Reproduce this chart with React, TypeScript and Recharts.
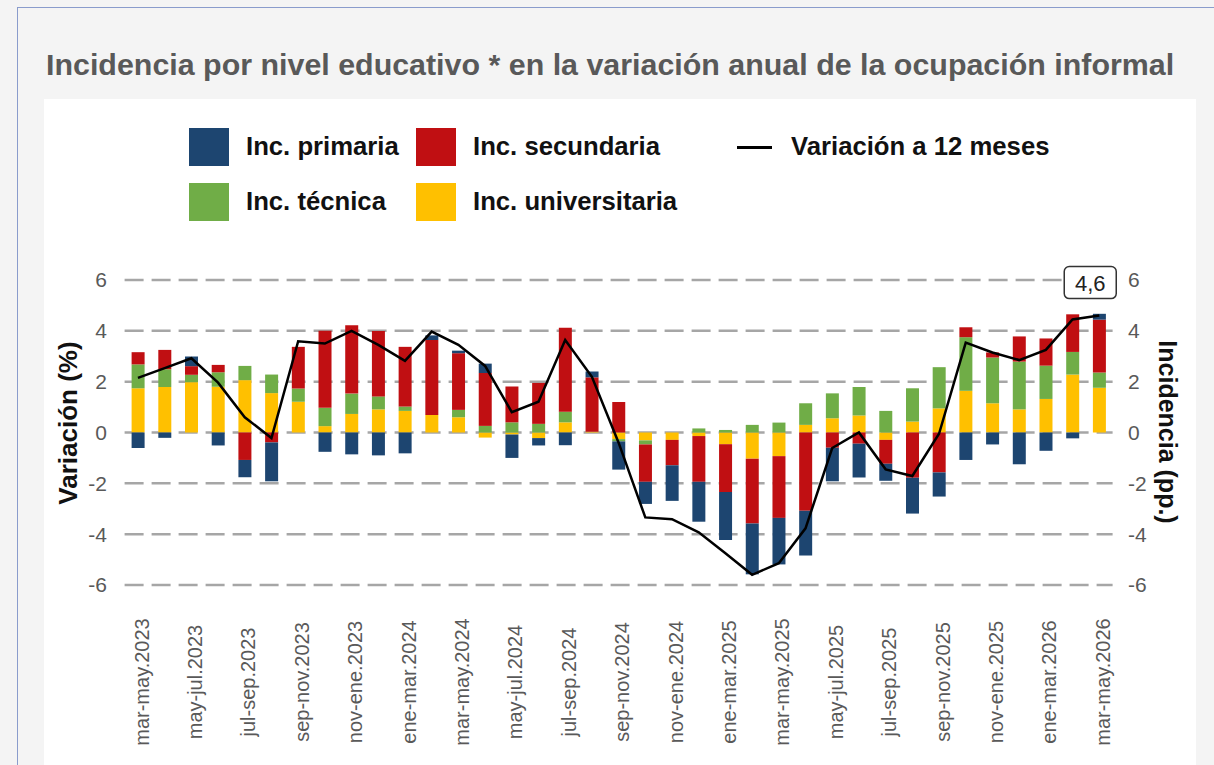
import React from 'react';
import { ComposedChart, Bar, Line, XAxis, YAxis, CartesianGrid } from 'recharts';

const categories = [
  'mar-may.2023', 'abr-jun.2023', 'may-jul.2023', 'jun-ago.2023', 'jul-sep.2023', 'ago-oct.2023',
  'sep-nov.2023', 'oct-dic.2023', 'nov-ene.2023', 'dic-feb.2023', 'ene-mar.2024', 'feb-abr.2024',
  'mar-may.2024', 'abr-jun.2024', 'may-jul.2024', 'jun-ago.2024', 'jul-sep.2024', 'ago-oct.2024',
  'sep-nov.2024', 'oct-dic.2024', 'nov-ene.2024', 'dic-feb.2024', 'ene-mar.2025', 'feb-abr.2025',
  'mar-may.2025', 'abr-jun.2025', 'may-jul.2025', 'jun-ago.2025', 'jul-sep.2025', 'ago-oct.2025',
  'sep-nov.2025', 'oct-dic.2025', 'nov-ene.2025', 'dic-feb.2025', 'ene-mar.2026', 'feb-abr.2026',
  'mar-may.2026',
];

const universitaria = [
  1.74, 1.79, 1.98, 1.80, 2.06, 1.55, 1.21, 0.25, 0.73, 0.91, 0.85, 0.69,
  0.60, -0.20, -0.08, -0.22, 0.40, 0.03, -0.26, -0.31, -0.29, -0.14, -0.46, -1.03,
  -0.93, 0.30, 0.56, 0.67, -0.29, 0.43, 0.95, 1.64, 1.15, 0.91, 1.32, 2.28, 1.76,
];
const tecnica = [
  0.94, 0.70, 0.29, 0.57, 0.56, 0.73, 0.52, 0.72, 0.80, 0.51, 0.17, 0.00,
  0.29, 0.26, 0.40, 0.34, 0.42, 0.00, -0.09, -0.16, 0.00, 0.16, 0.10, 0.30,
  0.39, 0.85, 0.98, 1.12, 0.85, 1.31, 1.62, 2.11, 1.80, 1.88, 1.31, 0.89, 0.60,
];
const secundaria = [
  0.48, 0.76, 0.34, 0.29, -1.08, -0.39, 1.64, 3.03, 2.69, 2.57, 2.35, 2.95,
  2.23, 2.08, 1.41, 1.61, 3.30, 2.14, 1.20, -1.47, -1.00, -1.80, -1.88, -2.55,
  -2.43, -3.08, -0.60, -0.44, -0.94, -1.78, -1.57, 0.39, 0.20, 0.99, 1.07, 1.48, 2.08,
];
const primaria = [
  -0.61, -0.21, 0.38, -0.51, -0.68, -1.53, 0.00, -0.76, -0.86, -0.90, -0.82, 0.18,
  0.10, 0.37, -0.92, -0.29, -0.50, 0.23, -1.11, -0.87, -1.40, -1.57, -1.89, -2.00,
  -1.83, -1.76, -1.32, -1.33, -0.67, -1.41, -0.95, -1.08, -0.47, -1.25, -0.72, -0.23, 0.23,
];
const variacion = [
  2.15, 2.53, 2.92, 1.96, 0.60, -0.22, 3.59, 3.50, 4.00, 3.45, 2.82, 3.97,
  3.45, 2.62, 0.80, 1.21, 3.64, 2.19, -0.40, -3.34, -3.41, -3.93, -4.75, -5.60,
  -5.14, -3.77, -0.61, 0.00, -1.45, -1.71, -0.05, 3.54, 3.15, 2.85, 3.25, 4.45, 4.60,
];
const yTicks = [-6, -4, -2, 0, 2, 4, 6];

const COLORS = {
  primaria: '#1d4570',
  secundaria: '#c00f12',
  tecnica: '#70ad47',
  universitaria: '#ffc000',
};

const data = categories.map((cat, i) => ({
  cat,
  universitaria: universitaria[i],
  tecnica: tecnica[i],
  secundaria: secundaria[i],
  primaria: primaria[i],
  variacion: variacion[i],
}));

const FONT = '"Liberation Sans", Arial, sans-serif';

const XTick = (props: any) => {
  const { x, y, payload } = props;
  const cx = x + 3.5;
  const cy = y + 89;
  return (
    <text
      x={cx}
      y={cy}
      transform={`rotate(-90, ${cx}, ${cy})`}
      textAnchor="middle"
      dy="0.355em"
      fontSize={20}
      fill="#595959"
      fontFamily={FONT}
    >
      {payload.value}
    </text>
  );
};

const lastIndex = variacion.length - 1;
const renderLastLabel = (props: any) => {
  const { x, y, index, value } = props;
  if (index !== lastIndex) return <g key={`l${index}`} />;
  const cx = x - 9;
  const cy = y - 33;
  return (
    <g key="lastlabel">
      <rect x={cx - 26} y={cy - 16} width={52} height={32} rx={5} ry={5} fill="#fff" stroke="#333" strokeWidth={1.5} />
      <text x={cx} y={cy} textAnchor="middle" dy="0.36em" fontSize={22} fill="#222" fontFamily={FONT}>
        {String(value).replace('.', ',')}
      </text>
    </g>
  );
};

const legendItems = [
  { label: 'Inc. primaria', color: COLORS.primaria, left: 189, top: 128 },
  { label: 'Inc. secundaria', color: COLORS.secundaria, left: 416, top: 128 },
  { label: 'Inc. técnica', color: COLORS.tecnica, left: 189, top: 183 },
  { label: 'Inc. universitaria', color: COLORS.universitaria, left: 416, top: 183 },
];

export default function App() {
  return (
    <div style={{ position: 'absolute', left: 0, top: 0, width: 1214, height: 765, background: '#f4f4f4', overflow: 'hidden', fontFamily: FONT }}>
      <div style={{ position: 'absolute', left: 17, top: 7, width: 1300, height: 900, borderTop: '1.5px solid #8a9ccc', borderLeft: '1.5px solid #8a9ccc' }} />
      <div style={{ position: 'absolute', left: 46, top: 49, fontSize: 30.4, lineHeight: '30px', fontWeight: 700, color: '#595959', whiteSpace: 'nowrap' }}>
        Incidencia por nivel educativo * en la variación anual de la ocupación informal
      </div>
      <div style={{ position: 'absolute', left: 44, top: 99, width: 1152, height: 700, background: '#ffffff' }} />
      {legendItems.map((it) => (
        <React.Fragment key={it.label}>
          <div style={{ position: 'absolute', left: it.left, top: it.top, width: 40, height: 38, background: it.color }} />
          <div style={{ position: 'absolute', left: it.left + 57, top: it.top + 6, fontSize: 25.7, lineHeight: '25px', fontWeight: 700, color: '#111', whiteSpace: 'nowrap' }}>
            {it.label}
          </div>
        </React.Fragment>
      ))}
      <div style={{ position: 'absolute', left: 737, top: 146, width: 35, height: 2.5, background: '#000' }} />
      <div style={{ position: 'absolute', left: 791, top: 134, fontSize: 25.7, lineHeight: '25px', fontWeight: 700, color: '#111', whiteSpace: 'nowrap' }}>
        Variación a 12 meses
      </div>
      <div style={{ position: 'absolute', left: 68, top: 423, transform: 'translate(-50%, -50%) rotate(-90deg)', fontSize: 26, lineHeight: '26px', fontWeight: 700, color: '#111', whiteSpace: 'nowrap' }}>
        Variación (%)
      </div>
      <div style={{ position: 'absolute', left: 1167, top: 432, transform: 'translate(-50%, -50%) rotate(90deg)', fontSize: 25, lineHeight: '25px', fontWeight: 700, color: '#111', whiteSpace: 'nowrap' }}>
        Incidencia (pp.)
      </div>
      <div style={{ position: 'absolute', left: 44, top: 99 }}>
        <ComposedChart
          width={1150}
          height={666}
          data={data}
          margin={{ top: 181, right: 21.4, bottom: 30, left: 20 }}
          stackOffset="sign"
          barSize={13}
        >
          <CartesianGrid yAxisId="left" vertical={false} stroke="#a6a6a6" strokeWidth={2.5} strokeDasharray="19 8" />
          <XAxis dataKey="cat" interval={1} tickLine={false} axisLine={false} height={150} tick={<XTick />} />
          <YAxis
            yAxisId="left"
            domain={[-6, 6]}
            ticks={yTicks}
            width={60.6}
            tickLine={false}
            axisLine={false}
            tickMargin={11.6}
            tick={{ fill: '#595959', fontSize: 21, fontFamily: FONT }}
          />
          <YAxis
            yAxisId="right"
            orientation="right"
            domain={[-6, 6]}
            ticks={yTicks}
            width={60}
            tickLine={false}
            axisLine={false}
            tickMargin={9.4}
            tick={{ fill: '#595959', fontSize: 21, fontFamily: FONT }}
          />
          <Bar yAxisId="right" dataKey="universitaria" stackId="a" fill={COLORS.universitaria} isAnimationActive={false} />
          <Bar yAxisId="right" dataKey="tecnica" stackId="a" fill={COLORS.tecnica} isAnimationActive={false} />
          <Bar yAxisId="right" dataKey="secundaria" stackId="a" fill={COLORS.secundaria} isAnimationActive={false} />
          <Bar yAxisId="right" dataKey="primaria" stackId="a" fill={COLORS.primaria} isAnimationActive={false} />
          <Line
            yAxisId="left"
            dataKey="variacion"
            stroke="#000"
            strokeWidth={2.5}
            dot={false}
            isAnimationActive={false}
            label={renderLastLabel}
          />
        </ComposedChart>
      </div>
    </div>
  );
}
